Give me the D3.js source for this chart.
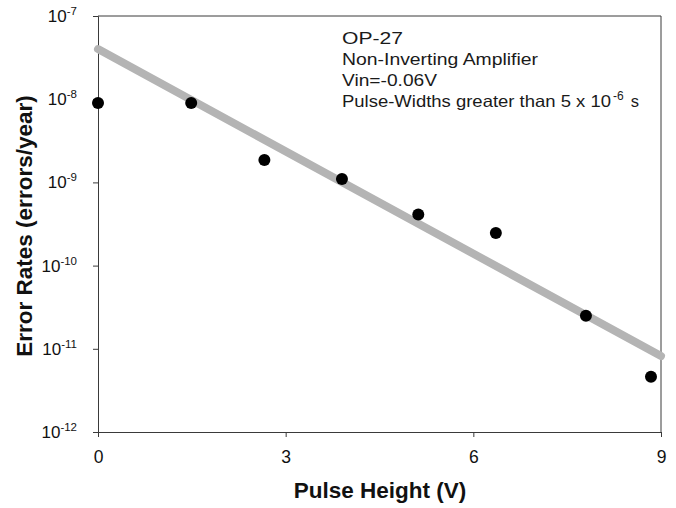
<!DOCTYPE html>
<html>
<head>
<meta charset="utf-8">
<script src="https://cdn.jsdelivr.net/npm/d3@7"></script>
<style>
  body { margin: 0; background: #fff; }
  svg { display: block; font-family: Arial, "Liberation Sans", Helvetica, sans-serif; }
</style>
</head>
<body>
<svg id="chart" width="676" height="508"></svg>
<script>
// ---- data ----
const pulseHeights = [0, 1.49, 2.66, 3.9, 5.12, 6.36, 7.8, 8.84];
const errorRates   = [9.0e-9, 9.0e-9, 1.86e-9, 1.1e-9, 4.1e-10, 2.47e-10, 2.5e-11, 4.6e-12];
const fitX = [0, 9];
const fitY = [4.0e-8, 8.2e-12];
const xTicks = [0, 3, 6, 9];
const yTickExponents = [-7, -8, -9, -10, -11, -12];
const annotationLines = ["OP-27", "Non-Inverting Amplifier", "Vin=-0.06V", "Pulse-Widths greater than 5 x 10"];

const W = 676, H = 508;
const margin = {left: 98, right: 15, top: 16, bottom: 76};
const svg = d3.select("#chart");

const x = d3.scaleLinear().domain([0, 9]).range([margin.left, W - margin.right]);
const y = d3.scaleLog().domain([1e-12, 1e-7]).range([H - margin.bottom, margin.top]);

const axisColor = "#3a3a3a";

// frame (top and right)
svg.append("line").attr("x1", x(0)).attr("x2", x(9)).attr("y1", y(1e-7)).attr("y2", y(1e-7))
  .attr("stroke", axisColor).attr("stroke-width", 1);
svg.append("line").attr("x1", x(9)).attr("x2", x(9)).attr("y1", y(1e-7)).attr("y2", y(1e-12))
  .attr("stroke", axisColor).attr("stroke-width", 1);

// x axis
const xAxis = d3.axisBottom(x).tickValues(xTicks).tickSize(5).tickPadding(14).tickFormat(d3.format("d"));
const gx = svg.append("g").attr("transform", `translate(0,${y(1e-12)})`).call(xAxis);
gx.select(".domain").attr("stroke", axisColor);
gx.selectAll(".tick line").attr("stroke", axisColor);
gx.selectAll(".tick text").attr("font-size", "17.5px").attr("fill", "#111")
  .attr("font-family", "Arial, 'Liberation Sans', sans-serif");

// y axis
const yAxis = d3.axisLeft(y).tickValues(yTickExponents.map(e => Math.pow(10, e))).tickSize(5).tickFormat("");
const gy = svg.append("g").attr("transform", `translate(${x(0)},0)`).call(yAxis);
gy.select(".domain").attr("stroke", axisColor);
gy.selectAll(".tick line").attr("stroke", axisColor);

// y tick labels with superscript
yTickExponents.forEach(e => {
  const t = svg.append("text")
    .attr("x", margin.left - 21)
    .attr("y", y(Math.pow(10, e)) + 6)
    .attr("text-anchor", "end")
    .attr("font-size", "17px")
    .attr("fill", "#111");
  t.append("tspan").text("10");
  t.append("tspan").attr("font-size", "11.5px").attr("dy", -7).text(String(e));
});

// fit line
svg.append("line")
  .attr("x1", x(fitX[0])).attr("y1", y(fitY[0]))
  .attr("x2", x(fitX[1])).attr("y2", y(fitY[1]))
  .attr("stroke", "#b4b4b4").attr("stroke-width", 8).attr("stroke-linecap", "round");

// points
svg.append("g").selectAll("circle")
  .data(pulseHeights.map((p, i) => [p, errorRates[i]]))
  .join("circle")
  .attr("cx", d => x(d[0])).attr("cy", d => y(d[1]))
  .attr("r", 6).attr("fill", "#000");

// annotation
const annX = 342;
const annBaselines = [44, 65, 86, 107];
const annWidths = [61, 196, 95, 269];
annotationLines.forEach((line, i) => {
  const t = svg.append("text")
    .attr("x", annX).attr("y", annBaselines[i])
    .attr("font-size", "16.5px").attr("fill", "#1a1a1a");
  if (i < 3) {
    t.text(line).attr("textLength", annWidths[i]).attr("lengthAdjust", "spacingAndGlyphs");
  } else {
    t.append("tspan").text(line).attr("textLength", annWidths[i]).attr("lengthAdjust", "spacingAndGlyphs");
    t.append("tspan").attr("font-size", "12px").attr("dy", -7).attr("dx", 2).text("-6");
    t.append("tspan").attr("dy", 7).attr("dx", 7).text("s");
  }
});

// axis titles
svg.append("text")
  .attr("x", 380).attr("y", 498)
  .attr("text-anchor", "middle")
  .attr("font-size", "22.5px").attr("font-weight", "bold").attr("fill", "#111")
  .text("Pulse Height (V)");

svg.append("text")
  .attr("transform", `translate(32,226) rotate(-90)`)
  .attr("text-anchor", "middle")
  .attr("font-size", "22.5px").attr("font-weight", "bold").attr("fill", "#111")
  .text("Error Rates (errors/year)");
</script>
</body>
</html>
